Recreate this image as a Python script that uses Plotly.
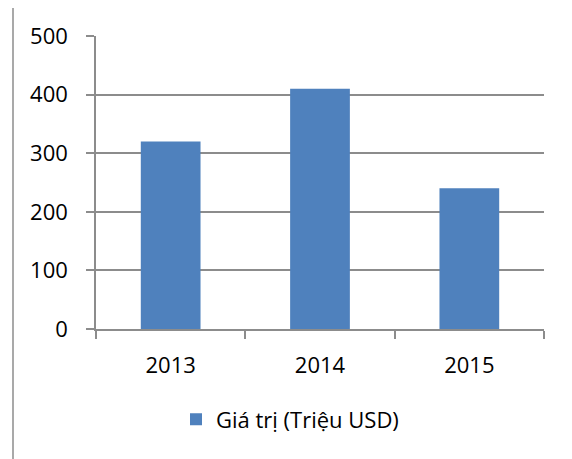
import plotly.graph_objects as go

years = ["2013", "2014", "2015"]
values = [320, 410, 240]
series_name = "Giá trị (Triệu USD)"
y_ticks = [0, 100, 200, 300, 400, 500]

FONT = "Open Sans"
GRAY = "#8c8c8c"

fig = go.Figure()
fig.add_trace(go.Bar(x=years, y=values, name=series_name,
                     marker=dict(color="#4F81BD", line=dict(width=0))))

OFF = 8  # default page body margin
PAGE_W, PAGE_H = 572, 459
W, H = PAGE_W - OFF, PAGE_H - OFF
# plot area in page pixels: x 96..544, y 34..329
L, T = 96 - OFF, 34 - OFF
R = PAGE_W - 544
B = PAGE_H - 329
pw, ph = 544 - 96, 329 - 34

def px_x(x):
    return (x - 96) / pw

def px_y(y):
    return (329 - y) / ph

fig.update_layout(
    width=W, height=H,
    margin=dict(l=L, r=R, t=T, b=B),
    paper_bgcolor="white", plot_bgcolor="white",
    font=dict(family=FONT, size=22, color="black"),
    bargap=0.6,
    showlegend=True,
    legend=dict(orientation="h", x=px_x(176), xanchor="left",
                y=px_y(420), yanchor="middle",
                font=dict(family=FONT, size=22, color="black"),
                itemwidth=30),
    xaxis=dict(showline=True, linecolor=GRAY, linewidth=1.5,
               ticks="outside", tickson="boundaries", ticklen=8,
               tickcolor=GRAY, tickwidth=1.5, showgrid=False,
               ticklabelstandoff=16,
               tickfont=dict(family=FONT, size=22, color="black")),
    yaxis=dict(range=[0, 500], tickvals=y_ticks, showline=True,
               linecolor=GRAY, linewidth=1.5, ticks="outside", ticklen=8,
               tickcolor=GRAY, tickwidth=1.5, showgrid=True,
               gridcolor=GRAY, gridwidth=1.5, zeroline=False,
               ticklabelstandoff=14,
               tickfont=dict(family=FONT, size=22, color="black")),
    shapes=[
        dict(type="line", xref="paper", yref="paper",
             x0=px_x(13), x1=px_x(590), y0=px_y(4), y1=px_y(4),
             line=dict(color=GRAY, width=1.5)),
        dict(type="line", xref="paper", yref="paper",
             x0=px_x(13), x1=px_x(13), y0=px_y(4), y1=px_y(480),
             line=dict(color=GRAY, width=1.5)),
    ],
)

fig.write_html("out.html")
